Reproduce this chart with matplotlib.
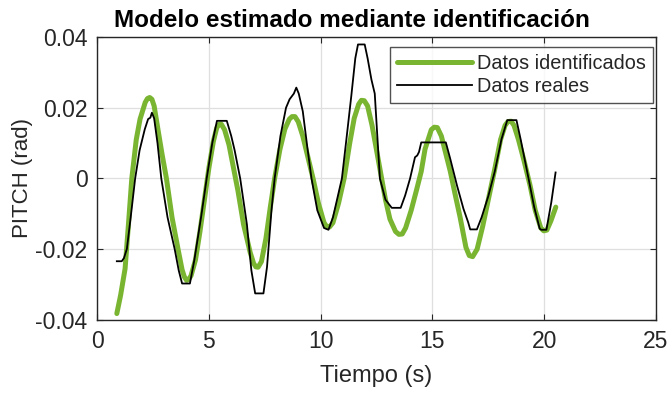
import numpy as np
import matplotlib
matplotlib.use("Agg")
import matplotlib.pyplot as plt

# Datos identificados (modelo)
t_ident = [0.88, 1.05, 1.25, 1.40, 1.55, 1.75, 1.92, 2.15, 2.25, 2.35, 2.45, 2.55, 2.72,
           2.90, 3.10, 3.35, 3.62, 3.80, 3.90, 4.00, 4.10, 4.20, 4.40, 4.60, 4.80, 5.00,
           5.20, 5.35, 5.45, 5.55, 5.70, 5.90, 6.10, 6.30, 6.55, 6.85, 7.00, 7.10, 7.20,
           7.35, 7.55, 7.75, 7.94, 8.18, 8.40, 8.60, 8.72, 8.85, 9.00, 9.20, 9.45, 9.66,
           9.90, 10.15, 10.28, 10.40, 10.55, 10.80, 11.05, 11.30, 11.50, 11.70, 11.82,
           11.95, 12.10, 12.30, 12.50, 12.70, 12.90, 13.10, 13.35, 13.50, 13.65, 13.80,
           14.05, 14.30, 14.50, 14.67, 14.95, 15.08, 15.22, 15.40, 15.60, 15.80, 16.00,
           16.24, 16.50, 16.65, 16.80, 17.00, 17.25, 17.50, 17.80, 18.05, 18.25, 18.38,
           18.52, 18.65, 18.85, 19.10, 19.37, 19.60, 19.85, 19.98, 20.12, 20.30, 20.52]
y_ident = [-0.0382, -0.0330, -0.0255, -0.0130, 0.0000, 0.0110, 0.0168, 0.0215, 0.0226,
           0.0229, 0.0224, 0.0205, 0.0139, 0.0070, 0.0000, -0.0110, -0.0200, -0.0258,
           -0.0278, -0.0288, -0.0285, -0.0275, -0.0230, -0.0150, -0.0060, 0.0030, 0.0105,
           0.0143, 0.0153, 0.0154, 0.0138, 0.0095, 0.0030, -0.0035, -0.0130, -0.0210,
           -0.0240, -0.0250, -0.0251, -0.0235, -0.0170, -0.0080, 0.0000, 0.0083, 0.0140,
           0.0168, 0.0175, 0.0175, 0.0160, 0.0120, 0.0055, 0.0000, -0.0070, -0.0125,
           -0.0137, -0.0137, -0.0125, -0.0070, 0.0000, 0.0100, 0.0170, 0.0210, 0.0221,
           0.0220, 0.0205, 0.0150, 0.0080, 0.0010, -0.0060, -0.0115, -0.0150, -0.0158,
           -0.0157, -0.0140, -0.0090, -0.0030, 0.0020, 0.0083, 0.0138, 0.0145, 0.0144,
           0.0120, 0.0070, 0.0020, -0.0040, -0.0110, -0.0195, -0.0218, -0.0221, -0.0200,
           -0.0135, -0.0060, 0.0030, 0.0110, 0.0150, 0.0161, 0.0162, 0.0150, 0.0110,
           0.0050, -0.0020, -0.0090, -0.0140, -0.0148, -0.0146, -0.0120, -0.0081]

# Datos reales (medidos)
t_real = [0.88, 1.10, 1.20, 1.33, 1.50, 1.70, 1.90, 2.13, 2.28, 2.38, 2.45, 2.55, 2.70,
          2.87, 3.15, 3.47, 3.65, 3.80, 4.15, 4.35, 4.66, 4.90, 5.15, 5.36, 5.80, 6.00,
          6.15, 6.40, 6.70, 6.90, 7.07, 7.44, 7.60, 7.80, 7.94, 8.20, 8.45, 8.61, 8.80,
          8.91, 9.02, 9.20, 9.40, 9.59, 9.85, 10.15, 10.35, 10.55, 10.75, 10.95, 11.15,
          11.37, 11.55, 11.67, 11.97, 12.10, 12.27, 12.42, 12.65, 12.90, 13.18, 13.58,
          13.78, 14.00, 14.22, 14.32, 14.40, 14.50, 15.60, 15.80, 16.10, 16.39, 16.60,
          16.69, 16.99, 17.20, 17.50, 17.79, 18.09, 18.35, 18.76, 18.95, 19.30, 19.55,
          19.80, 19.87, 20.10, 20.32, 20.51]
y_real = [-0.0234, -0.0234, -0.0225, -0.0199, -0.0110, 0.0000, 0.0080, 0.0139, 0.0168,
          0.0172, 0.0186, 0.0170, 0.0100, 0.0000, -0.0110, -0.0200, -0.0260, -0.0297,
          -0.0297, -0.0230, -0.0105, 0.0000, 0.0100, 0.0163, 0.0163, 0.0120, 0.0080,
          0.0000, -0.0130, -0.0260, -0.0325, -0.0325, -0.0250, -0.0090, 0.0000, 0.0120,
          0.0200, 0.0224, 0.0240, 0.0257, 0.0240, 0.0190, 0.0090, 0.0000, -0.0090, -0.0140,
          -0.0145, -0.0110, -0.0055, 0.0000, 0.0110, 0.0233, 0.0340, 0.0379, 0.0379,
          0.0340, 0.0280, 0.0240, 0.0000, -0.0060, -0.0083, -0.0083, -0.0048, 0.0000,
          0.0060, 0.0065, 0.0075, 0.0102, 0.0102, 0.0055, -0.0020, -0.0086, -0.0124,
          -0.0144, -0.0144, -0.0110, -0.0050, 0.0020, 0.0111, 0.0165, 0.0165, 0.0110,
          0.0000, -0.0080, -0.0142, -0.0145, -0.0145, -0.0067, 0.0017]

x_ticks = [0, 5, 10, 15, 20, 25]
y_ticks = [-0.04, -0.02, 0, 0.02, 0.04]
y_tick_labels = ["-0.04", "-0.02", "0", "0.02", "0.04"]

plt.rcParams['font.family'] = ['Liberation Sans', 'DejaVu Sans']
txt = '#262626'

fig = plt.figure(figsize=(6.7, 3.94), dpi=100)
ax = fig.add_axes([0.145, 0.188, 0.834, 0.718])

ax.plot(t_ident, y_ident, color='#7ab532', lw=3.6, label='Datos identificados',
        solid_capstyle='round', solid_joinstyle='round', zorder=3)
ax.plot(t_real, y_real, color='black', lw=1.3, label='Datos reales', zorder=4)

ax.set_xlim(0, 25)
ax.set_ylim(-0.04, 0.04)
ax.set_xticks(x_ticks)
ax.set_yticks(y_ticks)
ax.set_yticklabels(y_tick_labels)
ax.grid(True, color='#dfdfdf', lw=0.9)
ax.set_axisbelow(True)
ax.tick_params(direction='in', length=4, width=0.8, colors=txt, labelsize=16.5,
               top=True, right=True, pad=7)
for s in ax.spines.values():
    s.set_color(txt)
    s.set_linewidth(1.0)

ax.set_xlabel('Tiempo (s)', fontsize=17, color=txt, labelpad=9)
ax.set_ylabel('PITCH (rad)', fontsize=16, color=txt, labelpad=2)
fig.text(0.525, 0.931, 'Modelo estimado mediante identificación', fontsize=17.5,
         fontweight='bold', color='black', ha='center', va='baseline')

leg = ax.legend(loc='upper right', bbox_to_anchor=(0.9946, 0.9647), fontsize=14.3,
                frameon=True, fancybox=False, borderpad=0.35, handlelength=3.8,
                handletextpad=0.25, labelspacing=0.2, borderaxespad=0)
leg.get_frame().set_edgecolor(txt)
leg.get_frame().set_linewidth(1.0)
for t in leg.get_texts():
    t.set_color(txt)

fig.savefig('out.png', dpi=100)
